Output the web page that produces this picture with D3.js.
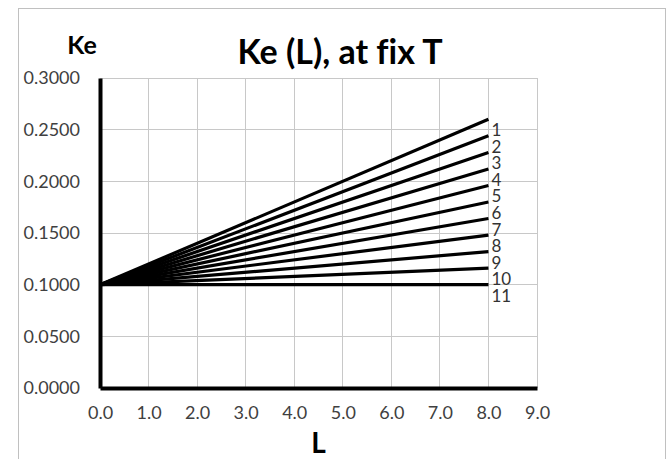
<!DOCTYPE html>
<html><head><meta charset="utf-8">
<script src="https://cdn.jsdelivr.net/npm/d3@7"></script>
<style>body{margin:0;background:#fff}svg{display:block}text{font-variant-ligatures:none;font-feature-settings:"liga" 0}</style>
</head><body>
<svg id="c" width="670" height="459"></svg>
<script>
// Data
const L = [0, 8];
const seriesNames = ["1","2","3","4","5","6","7","8","9","10","11"];
const startValues = [0.1,0.1,0.1,0.1,0.1,0.1,0.1,0.1,0.1,0.1,0.1];
const endValues = [0.260,0.244,0.228,0.212,0.196,0.180,0.164,0.148,0.132,0.116,0.100];
const xTicks = [0,1,2,3,4,5,6,7,8,9];
const yTicks = [0,0.05,0.1,0.15,0.2,0.25,0.3];

const svg = d3.select("#c");
const font = "Lato, 'Open Sans', sans-serif";
svg.append("rect").attr("x",18.5).attr("y",8.5).attr("width",647).attr("height",470)
  .attr("fill","#fff").attr("stroke","#c0c0c0").attr("stroke-width",1);

const x = d3.scaleLinear().domain([0,9]).range([100,537]);
const y = d3.scaleLinear().domain([0,0.3]).range([388,78]);

// gridlines
svg.append("g").selectAll("line").data(xTicks.slice(1)).join("line")
  .attr("x1",d=>x(d)).attr("x2",d=>x(d)).attr("y1",y(0)).attr("y2",y(0.3))
  .attr("stroke","#c8c8c8").attr("stroke-width",1).attr("shape-rendering","crispEdges");
svg.append("g").selectAll("line").data(yTicks.slice(1)).join("line")
  .attr("x1",x(0)).attr("x2",x(9)).attr("y1",d=>y(d)).attr("y2",d=>y(d))
  .attr("stroke","#c8c8c8").attr("stroke-width",1).attr("shape-rendering","crispEdges");

// axes
const xAxis = d3.axisBottom(x).tickValues(xTicks).tickFormat(d3.format(".1f")).tickSize(0).tickPadding(18);
const gx = svg.append("g").attr("transform",`translate(0,${y(0)})`).call(xAxis);
gx.select(".domain").attr("stroke","#000").attr("stroke-width",4);
gx.selectAll("text").attr("font-family",font).attr("font-size",18).attr("fill","#404040");

const yAxis = d3.axisLeft(y).tickValues(yTicks).tickFormat(d3.format(".4f")).tickSize(0).tickPadding(20);
const gy = svg.append("g").attr("transform",`translate(${x(0)},0)`).call(yAxis);
gy.select(".domain").attr("stroke","#000").attr("stroke-width",4);
gy.selectAll("text").attr("font-family",font).attr("font-size",18).attr("fill","#404040");

// lines
const series = seriesNames.map((n,i)=>({name:n, pts:[[L[0],startValues[i]],[L[1],endValues[i]]]}));
const line = d3.line().x(d=>x(d[0])).y(d=>y(d[1]));
svg.append("g").selectAll("path").data(series).join("path")
  .attr("d",d=>line(d.pts)).attr("fill","none").attr("stroke","#000").attr("stroke-width",3.2);

// series labels
svg.append("g").selectAll("text").data(series).join("text")
  .attr("x",d=>x(d.pts[1][0])+3).attr("y",d=>y(d.pts[1][1])+17)
  .attr("font-family",font).attr("font-size",17).attr("fill","#333")
  .text(d=>d.name);

// titles
svg.append("text").attr("x",340).attr("y",64).attr("text-anchor","middle")
  .attr("font-family",font).attr("font-weight","bold").attr("font-size",34).attr("fill","#000")
  .text("Ke (L), at fix T");
svg.append("text").attr("x",82).attr("y",54).attr("text-anchor","middle")
  .attr("font-family",font).attr("font-weight","bold").attr("font-size",25).attr("fill","#000")
  .text("Ke");
svg.append("text").attr("x",x(4.5)).attr("y",453).attr("text-anchor","middle")
  .attr("font-family",font).attr("font-weight","bold").attr("font-size",28).attr("fill","#000")
  .text("L");
</script>
</body></html>
